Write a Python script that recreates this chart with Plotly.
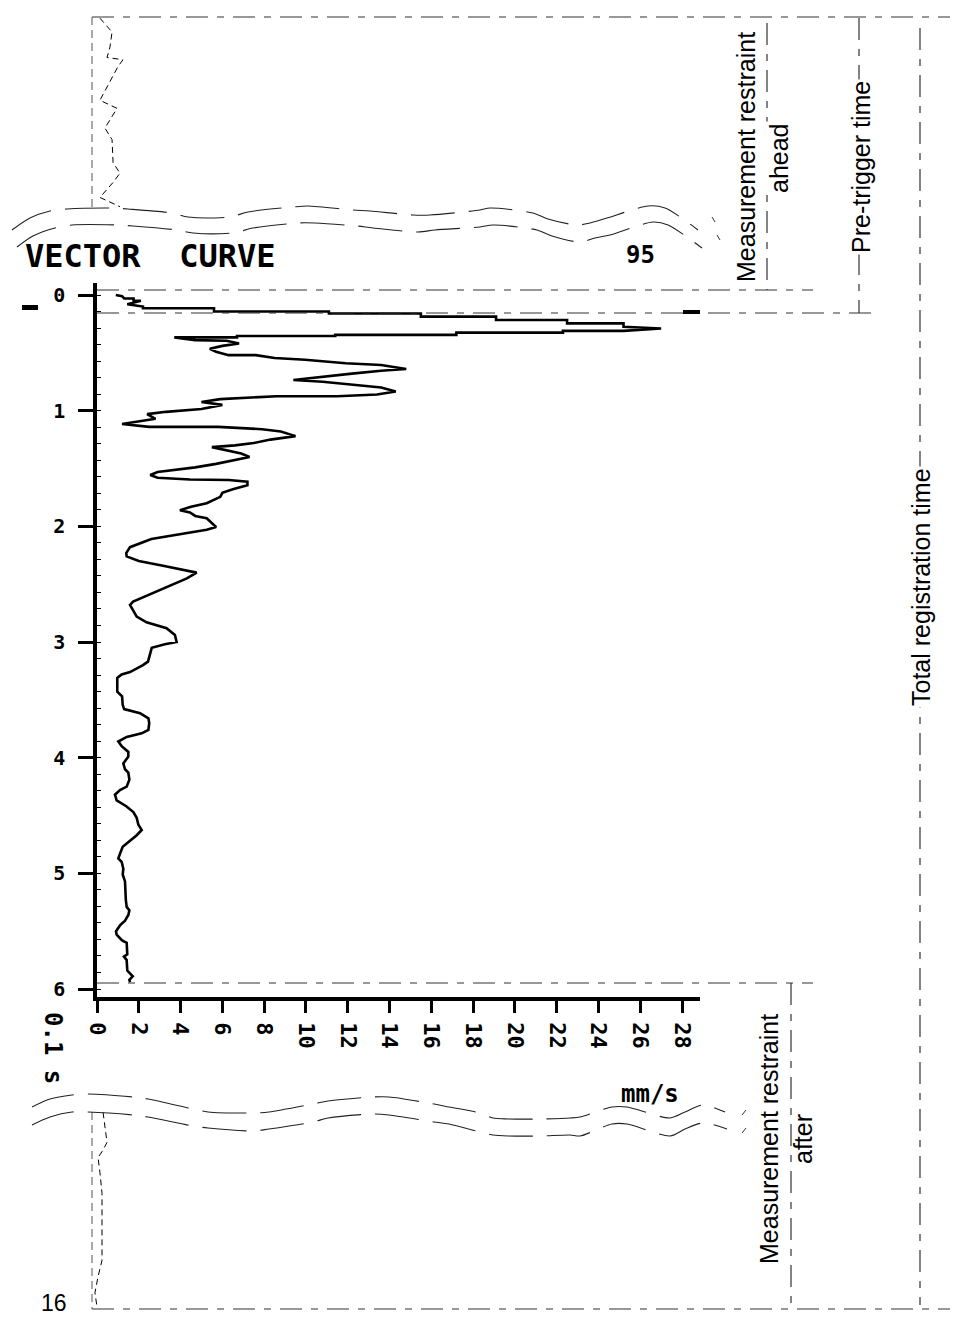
import plotly.graph_objects as go

W, H = 958, 1320
OFF = 8  # the page body margin: the figure is drawn 8 px in from the top-left corner

# ---------------- data ----------------
# vector velocity curve: time in units of 0.1 s, velocity in mm/s
time_s01 = [0.00, 0.01, 0.03, 0.03, 0.05, 0.05, 0.08, 0.10, 0.115, 0.115,
            0.142, 0.142, 0.16, 0.16, 0.187, 0.187, 0.216, 0.216, 0.245, 0.245,
            0.275, 0.29, 0.31, 0.31, 0.325, 0.325, 0.345, 0.345, 0.355, 0.355,
            0.366, 0.366, 0.39, 0.395, 0.42, 0.44, 0.465, 0.49, 0.52, 0.52,
            0.545, 0.56, 0.59, 0.605, 0.64, 0.655, 0.68, 0.71, 0.735, 0.75,
            0.78, 0.80, 0.835, 0.86, 0.875, 0.875, 0.90, 0.925, 0.95, 0.985,
            1.01, 1.03, 1.07, 1.09, 1.115, 1.14, 1.14, 1.16, 1.18, 1.22,
            1.25, 1.28, 1.30, 1.315, 1.37, 1.40, 1.43, 1.46, 1.49, 1.51,
            1.53, 1.556, 1.58, 1.595, 1.60, 1.615, 1.645, 1.68, 1.71, 1.745,
            1.77, 1.80, 1.83, 1.86, 1.88, 1.91, 1.93, 2.005, 2.03, 2.075,
            2.11, 2.18, 2.23, 2.26, 2.30, 2.34, 2.37, 2.40, 2.45, 2.52,
            2.585, 2.65, 2.68, 2.78, 2.83, 2.88, 2.94, 3.00, 3.02, 3.05,
            3.17, 3.20, 3.26, 3.28, 3.31, 3.43, 3.47, 3.545, 3.58, 3.615,
            3.66, 3.70, 3.76, 3.79, 3.82, 3.86, 3.90, 3.95, 3.99, 4.05,
            4.10, 4.13, 4.19, 4.25, 4.28, 4.32, 4.37, 4.42, 4.47, 4.52,
            4.58, 4.625, 4.67, 4.73, 4.77, 4.83, 4.87, 4.90, 4.96, 5.01,
            5.07, 5.23, 5.29, 5.32, 5.36, 5.41, 5.45, 5.50, 5.53, 5.58,
            5.60, 5.70, 5.72, 5.75, 5.84, 5.87, 5.89, 5.92, 5.94]
velocity_mms = [0.9, 1.2, 1.3, 1.75, 1.75, 2.1, 1.45, 2.2, 2.2, 5.6,
                5.6, 11.1, 11.1, 15.5, 15.5, 19.1, 19.1, 22.5, 22.5, 25.2,
                25.2, 27.0, 25.2, 22.3, 22.3, 17.2, 17.2, 11.4, 11.4, 6.7,
                6.7, 3.7, 4.7, 6.2, 6.8, 6.0, 5.4, 5.7, 6.3, 7.6,
                8.5, 9.96, 11.9, 13.6, 14.8, 13.6, 12.2, 10.5, 9.4, 10.8,
                12.5, 13.6, 14.3, 13.4, 11.5, 8.6, 5.9, 5.0, 6.0, 5.0,
                3.3, 2.4, 2.8, 2.0, 1.2, 2.5, 5.8, 7.9, 8.8, 9.5,
                8.3, 7.5, 6.6, 5.5, 6.9, 7.3, 6.5, 5.7, 4.7, 3.65,
                2.9, 2.55, 2.9, 4.45, 6.3, 7.2, 7.2, 6.5, 6.0, 5.9,
                5.6, 5.25, 4.5, 3.97, 4.45, 4.7, 5.25, 5.7, 5.25, 3.65,
                2.6, 1.58, 1.4, 1.42, 2.0, 3.16, 4.0, 4.77, 4.3, 3.4,
                2.53, 1.73, 1.58, 1.9, 2.37, 3.33, 3.73, 3.81, 3.25, 2.62,
                2.44, 2.2, 1.58, 1.18, 0.97, 0.97, 1.2, 1.23, 1.3, 2.06,
                2.46, 2.5, 2.46, 2.14, 1.42, 1.02, 1.18, 1.5, 1.5, 1.26,
                1.34, 1.5, 1.55, 1.42, 1.1, 0.86, 0.94, 1.4, 1.74, 1.9,
                1.98, 2.14, 1.9, 1.5, 1.23, 1.1, 1.02, 1.18, 1.26, 1.23,
                1.34, 1.38, 1.42, 1.55, 1.5, 1.34, 1.1, 0.91, 0.94, 1.2,
                1.42, 1.45, 1.29, 1.42, 1.45, 1.6, 1.71, 1.55, 1.58]

# sketched signal before the recorded window (pre-trigger) and after it
pre_time = [-1.99, -1.87, -1.74, -1.65, -1.63, -1.57, -1.28, -1.21, -1.04, -0.94,
            -0.74, -0.65, -0.57, -0.44, -0.36]
pre_vel = [0.14, 0.72, 0.62, 0.48, 1.24, 1.0, 0.14, 0.96, 0.38, 0.72,
           0.77, 1.1, 0.77, 0.14, 1.1]
post_time = [14.30, 14.56, 14.64, 14.69, 14.82, 15.0, 15.58, 15.72, 15.86, 15.98]
post_vel = [0.29, 0.48, 0.24, 0.05, 0.14, 0.24, 0.24, 0.05, -0.1, 0.0]

x_ticks = [0, 2, 4, 6, 8, 10, 12, 14, 16, 18, 20, 22, 24, 26, 28]
y_ticks = [0, 1, 2, 3, 4, 5, 6]

# ---------------- geometry helpers (page pixels -> figure paper) ----------------
FW, FH = W - OFF, H - OFF
PX_PER_MMS = 20.893       # horizontal scale
PX_PER_T = 115.67         # vertical scale (per 0.1 s)
X0, T0 = 97, 295          # page pixel position of 0 mm/s and t = 0


def fx(p):
    return (p - OFF) / FW


def fy(p):
    return 1 - (p - OFF) / FH


fig = go.Figure()

# main curve
fig.add_trace(go.Scatter(x=velocity_mms, y=time_s01, mode="lines",
                         line=dict(color="black", width=2.6),
                         xaxis="x", yaxis="y", hoverinfo="skip", showlegend=False))

# sketched pre-trigger and post-window curves
fig.add_trace(go.Scatter(x=pre_vel, y=pre_time, mode="lines",
                         line=dict(color="black", width=1, dash="6px,4px"),
                         xaxis="x2", yaxis="y4", hoverinfo="skip", showlegend=False))
fig.add_trace(go.Scatter(x=post_vel, y=post_time, mode="lines",
                         line=dict(color="black", width=1, dash="6px,4px"),
                         xaxis="x2", yaxis="y5", hoverinfo="skip", showlegend=False))

# decorative break (wavy) lines in page-pixel space
waves = [
    [(12, 230), (30, 218), (50, 211), (67, 209), (112, 208), (128, 209), (172, 213), (188, 217),
     (230, 217), (248, 212), (293, 207), (308, 206), (353, 210), (370, 211), (413, 215),
     (430, 215), (480, 210), (490, 208), (533, 213), (548, 219), (577, 225), (590, 223),
     (607, 218), (648, 206), (665, 208), (698, 230)],
    [(17, 247), (33, 236), (55, 228), (72, 225), (117, 225), (133, 226), (177, 230), (193, 233),
     (233, 233), (253, 228), (298, 223), (315, 223), (357, 226), (373, 228), (418, 232),
     (435, 230), (480, 227), (493, 225), (537, 230), (552, 236), (580, 242), (595, 238),
     (610, 235), (653, 222), (668, 225), (702, 248)],
    [(32, 1107), (50, 1099), (72, 1095), (88, 1094), (133, 1097), (148, 1099), (193, 1109),
     (208, 1112), (253, 1113), (269, 1112), (313, 1104), (328, 1101), (373, 1097), (389, 1097),
     (434, 1104), (449, 1107), (480, 1113), (493, 1118), (508, 1119), (540, 1119), (570, 1118),
     (580, 1117), (612, 1107), (627, 1107), (670, 1118), (685, 1112), (703, 1105), (725, 1112)],
    [(32, 1125), (50, 1117), (72, 1112), (88, 1112), (133, 1115), (148, 1117), (193, 1126),
     (208, 1128), (253, 1131), (269, 1129), (313, 1122), (328, 1118), (373, 1114), (389, 1115),
     (434, 1122), (449, 1124), (480, 1132), (493, 1135), (508, 1136), (540, 1136), (570, 1135),
     (580, 1136), (612, 1124), (627, 1124), (670, 1136), (685, 1129), (703, 1123), (727, 1129)],
]
for w in waves:
    fig.add_trace(go.Scatter(x=[p[0] for p in w], y=[p[1] for p in w], mode="lines",
                             line=dict(color="#222", width=1.1, dash="44px,14px",
                                       shape="spline", smoothing=0.8),
                             xaxis="x3", yaxis="y3", hoverinfo="skip", showlegend=False))

# ---------------- shapes (frame lines) ----------------
DASH = "22px,9px,7px,9px"
shapes = []


def seg(x0, y0, x1, y1, dash=DASH, color="#333", width=1.2):
    shapes.append(dict(type="line", xref="x3", yref="y3", x0=x0, y0=y0, x1=x1, y1=y1,
                       line=dict(color=color, width=width, dash=dash), layer="below"))


seg(92, 17, 958, 17)
seg(92, 17, 92, 207, dash="8px,5px", color="#555", width=1)
seg(97, 290, 813, 290)
seg(97, 313, 877, 313)
seg(767, 23, 767, 290)
seg(859, 18, 859, 313)
seg(920, 28, 920, 1305)
seg(97, 983, 813, 983)
seg(791, 983, 791, 1305)
seg(92, 1309, 958, 1309)
seg(92, 1112, 92, 1309, dash="8px,5px", color="#555", width=1)
# small break marks
seg(712, 217, 715, 222, dash="solid", width=1)
seg(717, 235, 720, 240, dash="solid", width=1)
seg(742, 1115, 746, 1110, dash="solid", width=1)
seg(742, 1133, 746, 1128, dash="solid", width=1)
# thick trigger marks
seg(22, 307.5, 38, 307.5, dash="solid", color="black", width=5)
seg(683, 312, 700, 312, dash="solid", color="black", width=4)

# ---------------- annotations ----------------
PIX = "DejaVu Sans Mono"
SANS = "Liberation Sans, Arial, sans-serif"
ann = []


def txt(x, y, s, size, family, angle=0, xanchor="center", bg=None, bold=False):
    ann.append(dict(xref="x3", yref="y3", x=x, y=y, text=("<b>%s</b>" % s) if bold else s,
                    showarrow=False, textangle=angle, xanchor=xanchor, yanchor="middle",
                    font=dict(family=family, size=size, color="black"),
                    bgcolor=bg if bg else "rgba(0,0,0,0)", borderpad=1))


txt(23, 256, "VECTOR&nbsp;&nbsp;CURVE", 32, PIX, xanchor="left", bold=True)
txt(640, 255, "95", 24, PIX, bold=True)
txt(650, 1094, "mm/s", 24, PIX, bold=True)
txt(53, 1048, "0.1 s", 24, PIX, angle=90, bold=True)
txt(54, 1303, "16", 23, SANS)
txt(746, 157, "Measurement restraint", 25, SANS, angle=-90)
txt(779, 158, "ahead", 25, SANS, angle=-90, bg="white")
txt(861, 167, "Pre-trigger time", 25, SANS, angle=-90, bg="white")
txt(921, 587, "Total registration time", 25, SANS, angle=-90, bg="white")
txt(769, 1139, "Measurement restraint", 25, SANS, angle=-90)
txt(803, 1139, "after", 25, SANS, angle=-90)

# ---------------- layout ----------------
x_right_px = 700
y_top_px, y_bot_px = 283, 997

fig.update_layout(
    width=FW, height=FH,
    margin=dict(l=0, r=0, t=0, b=0, pad=0),
    paper_bgcolor="white", plot_bgcolor="rgba(0,0,0,0)",
    showlegend=False,
    shapes=shapes, annotations=ann,
    xaxis=dict(domain=[fx(X0), fx(x_right_px)],
               range=[0, (x_right_px - X0) / PX_PER_MMS],
               anchor="y", showline=True, linewidth=3.5, linecolor="black",
               ticks="outside", ticklen=12, tickwidth=3, tickcolor="black",
               tickvals=x_ticks, ticktext=[str(v) for v in x_ticks], tickangle=90,
               ticklabelstandoff=5,
               tickfont=dict(family=PIX, size=22, color="black", weight="bold"),
               showgrid=False, zeroline=False, automargin=False, fixedrange=True),
    yaxis=dict(domain=[fy(y_bot_px), fy(y_top_px)],
               range=[(y_bot_px - T0) / PX_PER_T, (y_top_px - T0) / PX_PER_T],
               anchor="x", showline=True, linewidth=3.5, linecolor="black",
               ticks="outside", ticklen=15, tickwidth=3, tickcolor="black",
               tickvals=y_ticks, ticktext=[str(v) for v in y_ticks],
               ticklabelstandoff=9,
               tickfont=dict(family=PIX, size=20, color="black", weight="bold"),
               minor=dict(tick0=0, dtick=1 / 7, ticks="inside", ticklen=4,
                          tickwidth=1, tickcolor="black", showgrid=False),
               showgrid=False, zeroline=False, automargin=False, fixedrange=True),
    xaxis2=dict(domain=[0, 1], range=[(OFF - X0) / PX_PER_MMS, (W - X0) / PX_PER_MMS],
                anchor="y4", visible=False, fixedrange=True),
    yaxis4=dict(domain=[fy(207), fy(17)],
                range=[-2.0 + (207 - 17) / PX_PER_T, -2.0],
                anchor="x2", visible=False, fixedrange=True),
    yaxis5=dict(domain=[fy(1309), fy(1112)],
                range=[16.0, 16.0 - (1309 - 1112) / PX_PER_T],
                anchor="x2", visible=False, fixedrange=True),
    xaxis3=dict(domain=[0, 1], range=[OFF, W], anchor="y3", visible=False, fixedrange=True),
    yaxis3=dict(domain=[0, 1], range=[H, OFF], anchor="x3", visible=False, fixedrange=True),
)

fig.write_html("out.html")
